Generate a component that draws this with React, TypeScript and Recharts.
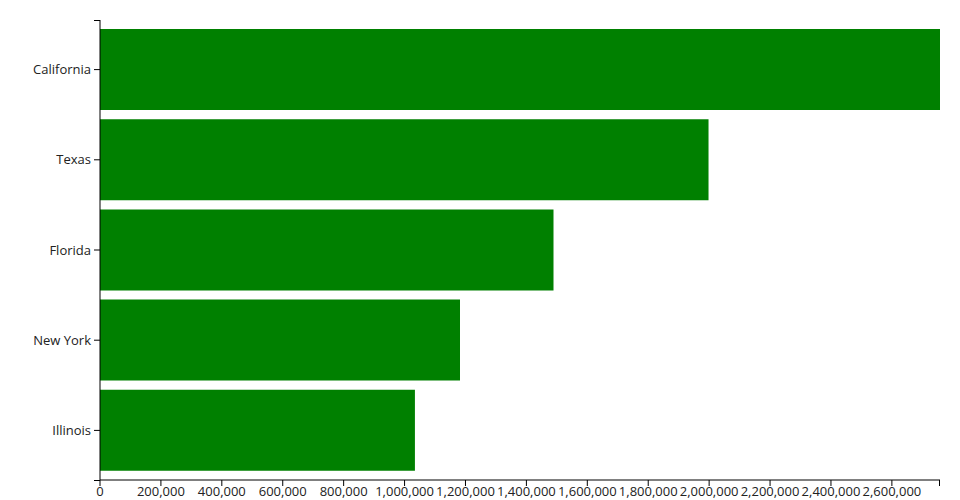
import * as R from 'recharts'
import { BarChart, Bar, XAxis, YAxis } from 'recharts'

const states = ['California', 'Texas', 'Florida', 'New York', 'Illinois']
const counts = [2758000, 1998000, 1489000, 1182000, 1034000]
const xTicks = [0, 200000, 400000, 600000, 800000, 1000000, 1200000, 1400000, 1600000, 1800000, 2000000, 2200000, 2400000, 2600000]

const data = states.map((name, i) => ({ name, value: counts[i] }))

const font = { fontFamily: '"Open Sans", "Noto Sans", sans-serif', fontSize: 13, fill: '#222' }

// d3-style outer ticks at the ends of both axes
function OuterTicks() {
  const usePlot = (R as any).usePlotArea
  const area = usePlot ? usePlot() : null
  if (!area) return null
  const { x, y, width, height } = area
  return (
    <g stroke="#000" strokeWidth={1}>
      <line x1={x - 6} y1={y + 0.5} x2={x} y2={y + 0.5} />
      <line x1={x - 6} y1={y + height + 0.5} x2={x} y2={y + height + 0.5} />
      <line x1={x + width - 0.5} y1={y + height} x2={x + width - 0.5} y2={y + height + 6} />
    </g>
  )
}

export default function App() {
  return (
    <div style={{ position: 'absolute', left: 0, top: 0, width: 960, height: 500, background: '#fff' }}>
      <BarChart
        width={960}
        height={500}
        data={data}
        layout="vertical"
        margin={{ top: 20, right: 20, bottom: 0, left: 0 }}
        barCategoryGap={4.5}
      >
        <XAxis
          type="number"
          dataKey="value"
          domain={[0, counts[0]]}
          ticks={xTicks}
          interval={0}
          height={20}
          stroke="#000"
          tickLine={{ stroke: '#000' }}
          tick={font}
          tickSize={6}
          tickMargin={1}
          tickFormatter={(v: number) => v.toLocaleString('en-US')}
        />
        <YAxis
          type="category"
          dataKey="name"
          width={100}
          padding={{ top: 4.5, bottom: 4.5 }}
          stroke="#000"
          tickLine={{ stroke: '#000' }}
          tick={font}
          tickSize={6}
          tickMargin={3}
        />
        <Bar dataKey="value" fill="#008000" isAnimationActive={false} />
        <OuterTicks />
      </BarChart>
    </div>
  )
}
